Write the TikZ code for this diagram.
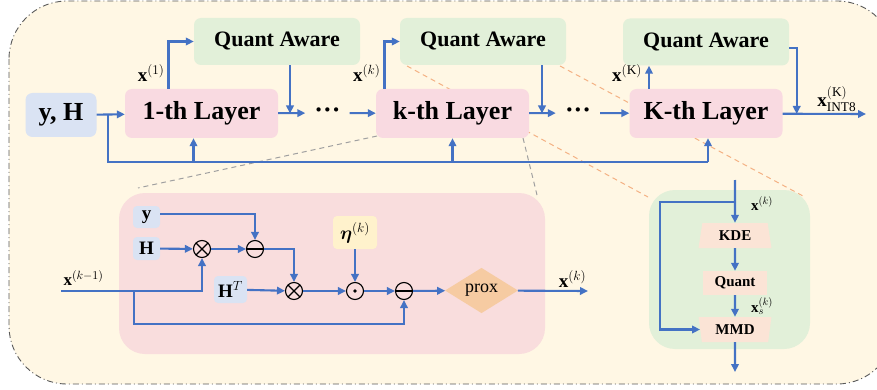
\RequirePackage{fix-cm}
\documentclass[tikz,border=0pt]{standalone}
\usepackage{amsmath,amsfonts}
\usepackage{fontspec}
\setmainfont{Liberation Serif}
\setmathrm{Liberation Serif}
\usepackage{tikz}
\usetikzlibrary{calc}
\usetikzlibrary{arrows, arrows.meta, positioning, shapes.geometric}

\definecolor{cream}{RGB}{255,247,228}
\definecolor{layerpink}{RGB}{249,218,225}
\definecolor{qagreen}{RGB}{226,240,217}
\definecolor{inblue}{RGB}{218,227,243}
\definecolor{panelpink}{RGB}{249,221,221}
\definecolor{etayellow}{RGB}{255,242,204}
\definecolor{proxorange}{RGB}{246,203,162}
\definecolor{peach}{RGB}{251,228,214}
\definecolor{wireblue}{RGB}{68,114,196}
\definecolor{zoomorange}{RGB}{244,177,131}
\definecolor{zoomgray}{RGB}{160,160,160}

\tikzset{
  wire/.style={draw=wireblue, line width=2.1pt},
  arr/.style={wire, -{Triangle[length=8pt,width=7.5pt]}},
  layer/.style={fill=layerpink, rounded corners=7pt, minimum width=153pt, minimum height=49pt,
    font=\fontsize{26}{28}\selectfont\bfseries},
  qaware/.style={fill=qagreen, rounded corners=7pt, minimum width=166pt, minimum height=47pt,
    font=\fontsize{22}{24}\selectfont\bfseries},
  dots/.style={minimum width=44pt, inner sep=0pt, font=\fontsize{26}{28}\selectfont\bfseries},
  inbox/.style={fill=inblue, rounded corners=4pt, inner sep=0pt, font=\fontsize{19}{21}\selectfont\bfseries},
  opbase/.style={circle, draw, line width=1.1pt, minimum size=17pt, inner sep=0pt},
  opx/.style={opbase, path picture={
      \draw[line width=1.1pt] (path picture bounding box.north west) -- (path picture bounding box.south east)
        (path picture bounding box.north east) -- (path picture bounding box.south west);}},
  omin/.style={opbase, path picture={
      \draw[line width=1.1pt] (path picture bounding box.west) -- (path picture bounding box.east);}},
  odt/.style={opbase, path picture={
      \fill (path picture bounding box.center) circle (1.8pt);}},
  lbl/.style={font=\fontsize{19}{21}\selectfont, inner sep=1pt},
  trap/.style={trapezium, trapezium left angle=79, trapezium right angle=79, trapezium stretches=true,
    fill=peach, minimum width=73pt, minimum height=25pt, inner sep=0pt, font=\fontsize{15}{17}\selectfont\bfseries},
  zoomline/.style={dashed, line width=1pt, dash pattern=on 5pt off 4pt}
}

\begin{document}
\begin{tikzpicture}[x=1pt, y=-1pt]
  \useasboundingbox (0,0) rectangle (877,390);

  % Outer frame
  \draw[fill=cream, draw=black!65, line width=0.9pt, dash pattern=on 6pt off 3pt on 1pt off 3pt,
    rounded corners=58pt] (9,1) rectangle (895,384);

  % Zoom lines
  \draw[zoomline, draw=zoomgray] (377,136) -- (138,188);
  \draw[zoomline, draw=zoomgray] (523,138) -- (537,195);
  \draw[zoomline, draw=zoomorange] (407,66) -- (648,197);
  \draw[zoomline, draw=zoomorange] (560,66) -- (803,196);

  % Panels
  \fill[panelpink, rounded corners=26pt] (119,193) rectangle (545,354);
  \fill[qagreen, rounded corners=26pt] (649,190) rectangle (810,349);

  % Top row
  \node[inbox, minimum width=71pt, minimum height=44pt, rounded corners=7pt,
    font=\fontsize{26}{28}\selectfont\bfseries] (yh) at (61,115) {y, H};
  \node[layer] (L1) at (201.5,113.5) {1-th Layer};
  \node[layer] (Lk) at (452.5,113.5) {k-th Layer};
  \node[layer] (LK) at (706,113.5) {K-th Layer};
  \node[qaware] (QA1) at (277,41.5) {Quant Aware};
  \node[qaware] (QA2) at (483,41.5) {Quant Aware};
  \node[qaware] (QA3) at (706,42) {Quant Aware};
  \node[dots] (d1) at (327.5,113) {···};
  \node[dots] (d2) at (578,113) {···};
  \coordinate (out) at (866,114);
  \coordinate (busL) at (108,162);
  \coordinate (busR) at (708,162);

  % Top row arrows
  \draw[arr] (yh) -- (L1);
  \draw[arr] (L1) -- (d1);
  \draw[arr] (d1) -- (Lk);
  \draw[arr] (Lk) -- (d2);
  \draw[arr] (d2) -- (LK);
  \draw[arr] (LK) -- (out) node[lbl, pos=0.65, above=0pt] (lout) {$\mathbf{x}^{(\mathrm{K})}_{\mathrm{INT8}}$};
  \draw[arr] ([xshift=-33pt]L1.north) |- (QA1.west) node[lbl, pos=0.17, left=2pt] (l1) {$\mathbf{x}^{(1)}$};
  \draw[arr] ([xshift=-68pt]Lk.north) |- (QA2.west) node[lbl, pos=0.17, left=2pt] (lk) {$\mathbf{x}^{(k)}$};
  \draw[arr] ([xshift=-57pt]LK.north) -- ([xshift=-57pt]LK.north |- QA3.south)
    node[lbl, pos=0.7, left=5pt] (lK) {$\mathbf{x}^{(\mathrm{K})}$};
  \draw[arr] ([xshift=13pt]QA1.south) -- ([xshift=13pt]QA1.south |- L1.east);
  \draw[arr] ([xshift=59pt]QA2.south) -- ([xshift=59pt]QA2.south |- Lk.east);
  \draw[arr] ([yshift=-6pt]QA3.east) -| ([xshift=14pt]LK.east |- out);

  % Bus back to the layers
  \draw[wire] (yh.east -| busL) -- (busL) -- (busR);
  \draw[arr] ([xshift=-8pt]L1.south |- busL) -- ([xshift=-8pt]L1.south);
  \draw[arr] (Lk.south |- busL) -- (Lk.south);
  \draw[arr] (busR) -- (busR |- LK.south);

  % Inner layer
  \node[inbox, minimum width=27pt, minimum height=22pt] (y) at (146.5,217) {y};
  \node[inbox, minimum width=27pt, minimum height=23pt] (H) at (146.5,248.5) {H};
  \node[inbox, minimum width=33pt, minimum height=27pt] (HT) at (230.5,289.5) {H$^{T}$};
  \node[inbox, fill=etayellow, minimum width=44pt, minimum height=33pt] (eta) at (355,232.5)
    {$\boldsymbol{\eta}^{(k)}$};
  \node[opx] (m1) at (202,249) {};
  \node[omin] (s1) at (255,249) {};
  \node[opx] (m2) at (294,291) {};
  \node[odt] (dt) at (355,291) {};
  \node[omin] (s2) at (404,291) {};
  \node[diamond, fill=proxorange, minimum width=73pt, minimum height=35pt, inner sep=0pt,
    font=\fontsize{18}{20}\selectfont] (prox) at (481.5,290.5) {prox};
  \coordinate (xin) at (61,291);
  \coordinate (tap) at (134,291);
  \coordinate (low) at (134,324);
  \coordinate (xout) at (588,291);

  \draw[arr] ([yshift=3pt]y.east) -| (s1);
  \draw[arr] (H) -- (m1);
  \draw[arr] (m1) -- (s1);
  \draw[arr] (s1) -| (m2);
  \draw[arr] (HT) -- (m2);
  \draw[arr] (m2) -- (dt);
  \draw[arr] (eta) -- (dt);
  \draw[arr] (dt) -- (s2);
  \draw[arr] (s2) -- (prox);
  \draw[arr] (prox) -- (xout) node[lbl, pos=0.78, above=1pt] (lxk) {$\mathbf{x}^{(k)}$};
  \draw[arr] (xin) -| (m1) node[lbl, pos=0.08, above=3pt, font=\fontsize{17}{19}\selectfont] (lxin) {$\mathbf{x}^{(k-1)}$};
  \draw[arr] (tap) -- (low) -| (s2);

  % Quant aware detail
  \node[trap] (kde) at (735,235.5) {KDE};
  \node[fill=peach, minimum width=64pt, minimum height=24pt, inner sep=0pt,
    font=\fontsize{15}{17}\selectfont\bfseries] (qnt) at (735,283) {Quant};
  \node[trap, shape border rotate=180] (mmd) at (735,329.5) {MMD};
  \coordinate (gin) at (735,180);
  \coordinate (gl) at (660,202);
  \coordinate (gout) at (735,372);

  \draw[arr] (gin) -- (kde) node[lbl, pos=0.55, right=14pt, font=\fontsize{15}{17}\selectfont] (lg) {$\mathbf{x}^{(k)}$};
  \draw[arr] (gin |- gl) -- (gl) |- (mmd.west);
  \draw[arr] (kde) -- (qnt);
  \draw[arr] (qnt) -- (mmd) node[lbl, midway, right=14pt, font=\fontsize{15}{17}\selectfont] (ls) {$\mathbf{x}_{s}^{(k)}$};
  \draw[arr] (mmd) -- (gout);
\end{tikzpicture}
\end{document}
